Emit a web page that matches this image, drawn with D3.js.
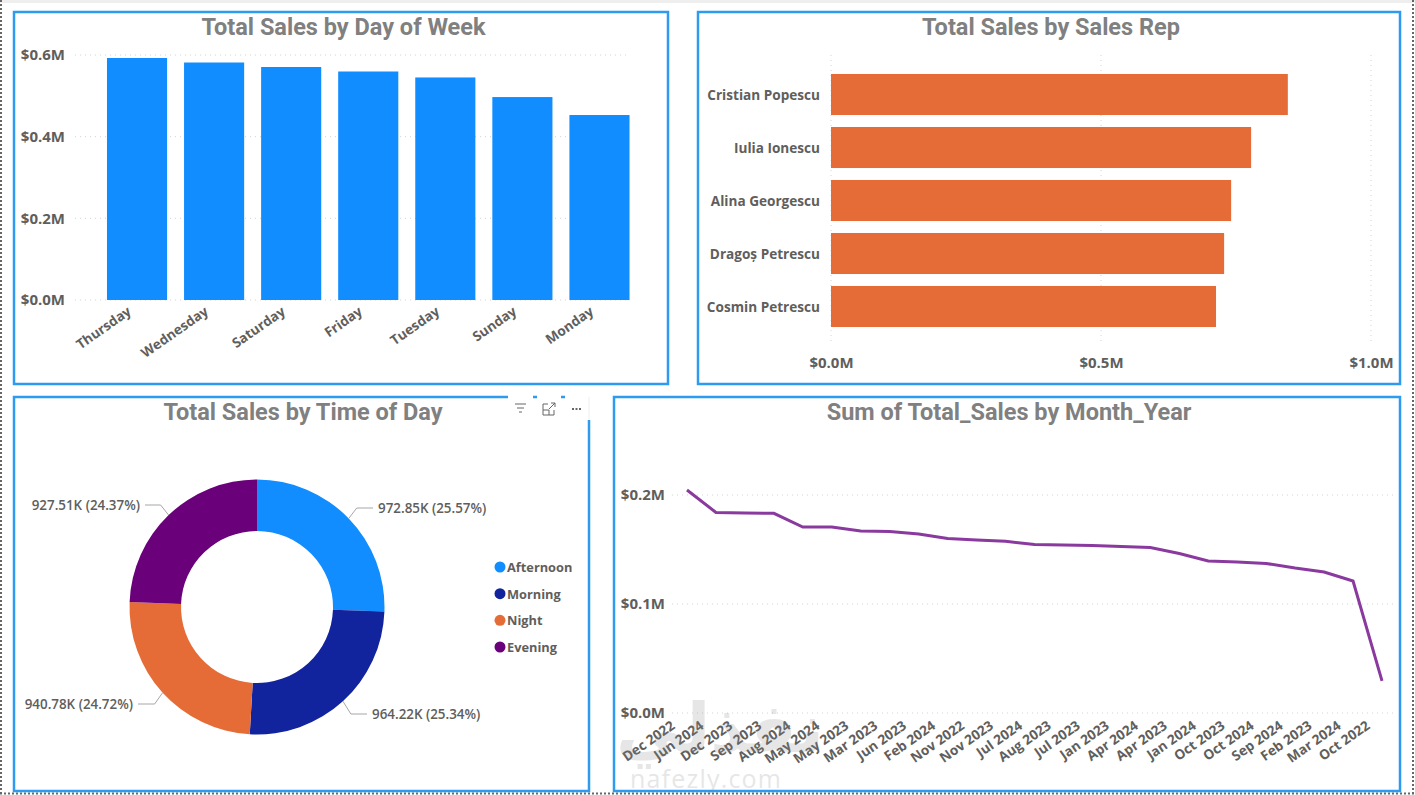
<!DOCTYPE html>
<html>
<head>
<meta charset="utf-8">
<script src="https://cdn.jsdelivr.net/npm/d3@7"></script>
<style>
html,body{margin:0;padding:0;background:#fff;overflow:hidden}
svg{display:block}
text{font-family:"Open Sans",sans-serif;font-weight:600;fill:#605e5c}
.title{font-family:"Liberation Sans Narrow","Roboto",sans-serif;font-weight:700;font-size:23.5px;fill:#808080;text-anchor:middle}
.tick line,.domain{display:none}
.grid line{stroke:#d4d4d4;stroke-width:1;stroke-dasharray:1 4}
</style>
</head>
<body>
<svg width="1415" height="795"></svg>
<script>
// values
var days = ["Thursday","Wednesday","Saturday","Friday","Tuesday","Sunday","Monday"];
var daySales = [0.5927,0.5816,0.5706,0.5596,0.545,0.497,0.453];

var reps = ["Cristian Popescu","Iulia Ionescu","Alina Georgescu","Dragoș Petrescu","Cosmin Petrescu"];
var repSales = [0.846,0.778,0.741,0.728,0.713];

var times = ["Afternoon","Morning","Night","Evening"];
var timeSales = [972.85,964.22,940.78,927.51];
var timeLabels = ["972.85K (25.57%)","964.22K (25.34%)","940.78K (24.72%)","927.51K (24.37%)"];
var timeColors = ["#118dff","#12239e","#e66c37","#6b007b"];

var months = ["Dec 2022","Jun 2024","Dec 2023","Sep 2023","Aug 2024","May 2024","May 2023","Mar 2023","Jun 2023","Feb 2024","Nov 2022","Nov 2023","Jul 2024","Aug 2023","Jul 2023","Jan 2023","Apr 2024","Apr 2023","Jan 2024","Oct 2023","Oct 2024","Sep 2024","Feb 2023","Mar 2024","Oct 2022"];
var monthSales = [0.2046,0.184,0.1835,0.1832,0.1706,0.1706,0.167,0.1665,0.1642,0.16,0.1587,0.1575,0.1546,0.1541,0.1537,0.1528,0.1519,0.1463,0.1395,0.1385,0.1372,0.133,0.1294,0.1211,0.0294];

var mySVG = d3.select("svg");

// page frame
mySVG.append("rect").attr("x",0).attr("y",0).attr("width",1415).attr("height",3).attr("fill","#eeeeee");
mySVG.append("line").attr("x1",1).attr("x2",1).attr("y1",0).attr("y2",795)
  .attr("stroke","#666").attr("stroke-width",2).attr("stroke-dasharray","2 2");
mySVG.append("line").attr("x1",1413).attr("x2",1413).attr("y1",0).attr("y2",795)
  .attr("stroke","#666").attr("stroke-width",2).attr("stroke-dasharray","2 2");
mySVG.append("line").attr("x1",0).attr("x2",1415).attr("y1",793.5).attr("y2",793.5)
  .attr("stroke","#666").attr("stroke-width",2).attr("stroke-dasharray","2 2");

function panel(x,y,w,h,title,tx,ty){
  mySVG.append("rect").attr("x",x).attr("y",y).attr("width",w).attr("height",h)
    .attr("fill","#fff").attr("stroke","#2e9bf0").attr("stroke-width",2.5);
  mySVG.append("text").attr("class","title").attr("x",tx).attr("y",ty).text(title);
}

panel(14,12,654,372,"Total Sales by Day of Week",343.5,35);
panel(698,12,702,372,"Total Sales by Sales Rep",1051,35);
panel(14,397,575,394,"Total Sales by Time of Day",303,420);
panel(614,397,786,394,"Sum of Total_Sales by Month_Year",1009,420);

function money(d){ return "$"+d.toFixed(1)+"M"; }

// ---- day of week
var x1 = d3.scaleBand().domain(days).range([98.5,638]).paddingInner(0.22).paddingOuter(0.11);
var y1 = d3.scaleLinear().domain([0,0.6]).range([300,55]);

mySVG.append("g").attr("class","grid").selectAll("line").data([0,0.2,0.4,0.6]).enter().append("line")
  .attr("x1",75).attr("x2",630).attr("y1",function(d){return y1(d);}).attr("y2",function(d){return y1(d);});
mySVG.append("g").attr("transform","translate(65,0)")
  .call(d3.axisLeft(y1).tickValues([0,0.2,0.4,0.6]).tickFormat(money).tickSize(0).tickPadding(0))
  .selectAll("text").style("font-size","15px").style("font-family","'Open Sans'").style("font-weight",700).attr("fill","#605e5c");
mySVG.append("g").selectAll("rect").data(daySales).enter().append("rect")
  .attr("x",function(d,i){return x1(days[i]);})
  .attr("width",x1.bandwidth())
  .attr("y",function(d){return y1(d);})
  .attr("height",function(d){return y1(0)-y1(d);})
  .attr("fill","#118dff");
var ax1 = mySVG.append("g").attr("transform","translate(0,300)")
  .call(d3.axisBottom(x1).tickSize(0).tickFormat(function(d){return d;}));
ax1.selectAll("text")
  .style("font-size","13.6px").style("font-family","'Open Sans'").style("font-weight",700).attr("fill","#605e5c")
  .attr("text-anchor","end").attr("dx","-0.1em").attr("dy","0.2em")
  .attr("transform","translate(-7,8) rotate(-35)");

// ---- sales rep
var x2 = d3.scaleLinear().domain([0,1]).range([831,1371]);
var y2 = d3.scaleBand().domain(reps).range([68,333]).paddingInner(0.226).paddingOuter(0.113);

mySVG.append("g").attr("class","grid").selectAll("line").data([0,0.5,1]).enter().append("line")
  .attr("x1",function(d){return x2(d);}).attr("x2",function(d){return x2(d);}).attr("y1",55).attr("y2",345);
mySVG.append("g").selectAll("rect").data(repSales).enter().append("rect")
  .attr("x",x2(0))
  .attr("y",function(d,i){return y2(reps[i]);})
  .attr("width",function(d){return x2(d)-x2(0);})
  .attr("height",y2.bandwidth())
  .attr("fill","#e66c37");
mySVG.append("g").attr("transform","translate(820,1)")
  .call(d3.axisLeft(y2).tickSize(0).tickPadding(0))
  .selectAll("text").style("font-size","13.6px").style("font-family","'Open Sans'").style("font-weight",700).attr("fill","#605e5c");
mySVG.append("g").attr("transform","translate(0,357)")
  .call(d3.axisBottom(x2).tickValues([0,0.5,1]).tickFormat(money).tickSize(0).tickPadding(0))
  .selectAll("text").style("font-size","15px").style("font-family","'Open Sans'").style("font-weight",700).attr("fill","#605e5c");

// visual header icons on the donut card
mySVG.append("rect").attr("x",508).attr("y",395).attr("width",83).attr("height",25).attr("fill","#fff");
mySVG.append("path").attr("d","M533 397H537M561 397H565").attr("stroke","#2e9bf0").attr("stroke-width",2.5);
mySVG.append("line").attr("x1",589).attr("x2",589).attr("y1",397).attr("y2",420).attr("stroke","#eee");
var hdr = mySVG.append("g").attr("fill","none").attr("stroke","#666").attr("stroke-width",1);
hdr.append("path").attr("d","M515 404H526M517 408H524M519 412H522");
hdr.append("path").attr("d","M548 404H543V415H554V410M543 410H549V415M549 409L555 403M551 403H555V407");
hdr.append("path").attr("d","M572 409h2M575.5 409h2M579 409h2").attr("stroke-width",2);

// ---- time of day
var pie = d3.pie().sort(null).value(function(d){return d;});
var arc = d3.arc().innerRadius(76).outerRadius(127.5);
var donut = mySVG.append("g").attr("transform","translate(257,607)");
var slices = pie(timeSales);
donut.selectAll("path").data(slices).enter().append("path")
  .attr("d",arc)
  .attr("fill",function(d,i){return timeColors[i];});

// label positions follow the slice mid angle
var labelX = [378,372,133,140];
var labelY = [508,714,704,505];
slices.forEach(function(s,i){
  var a = (s.startAngle+s.endAngle)/2;
  var px = 127.5*Math.sin(a), py = -127.5*Math.cos(a);
  var right = a<Math.PI;
  var ex = labelX[i]-257+(right?-5:5), ey = labelY[i]-607;
  donut.append("polyline")
    .attr("points",[[px,py],[px+(right?8:-8),ey],[ex,ey]].join(" "))
    .attr("fill","none").attr("stroke","#a6a6a6").attr("stroke-width",1);
  donut.append("text").attr("x",labelX[i]-257).attr("y",ey).attr("dy","0.35em")
    .attr("text-anchor",right?"start":"end")
    .style("font-size","13.4px").style("font-weight",600).text(timeLabels[i]);
});

var legY = d3.scalePoint().domain(times).range([567,647]);
var leg = mySVG.append("g").selectAll("g").data(times).enter().append("g")
  .attr("transform",function(d){return "translate(500,"+legY(d)+")";});
leg.append("circle").attr("r",5.5).attr("fill",function(d,i){return timeColors[i];});
leg.append("text").attr("x",7).attr("dy","0.38em").style("font-size","12.8px").style("font-weight",700).text(function(d){return d;});

// ---- month year
var x4 = d3.scalePoint().domain(months).range([687,1382]);
var y4 = d3.scaleLinear().domain([0,0.2]).range([713,495]);

mySVG.append("g").attr("class","grid").selectAll("line").data([0,0.1,0.2]).enter().append("line")
  .attr("x1",672).attr("x2",1393).attr("y1",function(d){return y4(d);}).attr("y2",function(d){return y4(d);});
mySVG.append("g").attr("transform","translate(665,0)")
  .call(d3.axisLeft(y4).tickValues([0,0.1,0.2]).tickFormat(money).tickSize(0).tickPadding(0))
  .selectAll("text").style("font-size","15px").style("font-family","'Open Sans'").style("font-weight",700).attr("fill","#605e5c");
var line = d3.line().x(function(d,i){return x4(months[i]);}).y(function(d){return y4(d);});
mySVG.append("path").datum(monthSales).attr("d",line)
  .attr("fill","none").attr("stroke","#8a3a9e").attr("stroke-width",3);
var ax4 = mySVG.append("g").attr("transform","translate(0,713)")
  .call(d3.axisBottom(x4).tickSize(0));
ax4.selectAll("text")
  .style("font-size","13.6px").style("font-family","'Open Sans'").style("font-weight",700).attr("fill","#605e5c")
  .attr("text-anchor","end").attr("dy","0.2em")
  .attr("transform","translate(-15,10) rotate(-35)");

// watermark
var wm = mySVG.append("g").style("opacity",0.2);
wm.append("text").attr("x",630).attr("y",788).style("font-size","25px").style("font-weight",400)
  .style("letter-spacing","1.2px").style("fill","#888").text("nafezly.com");
wm.append("text").attr("x",824).attr("y",752).style("font-size","68px").style("font-family","'DejaVu Sans',sans-serif").style("font-weight",700)
  .style("fill","#888").attr("text-anchor","start").attr("direction","rtl").text("نفذلي");
</script>
</body>
</html>
